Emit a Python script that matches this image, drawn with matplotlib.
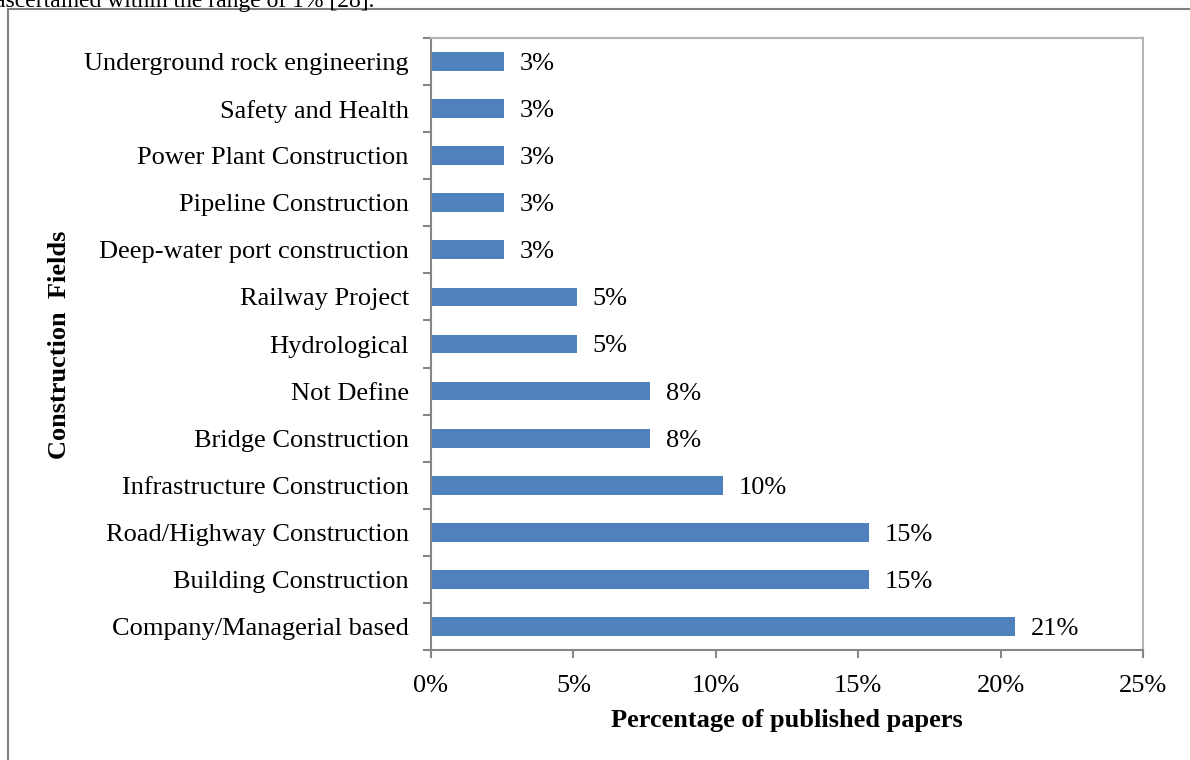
import numpy as np
import matplotlib.pyplot as plt
from matplotlib.patches import Rectangle

# data (bottom to top)
fields = ['Company/Managerial based', 'Building Construction', 'Road/Highway Construction',
          'Infrastructure Construction', 'Bridge Construction', 'Not Define', 'Hydrological',
          'Railway Project', 'Deep-water port construction', 'Pipeline Construction',
          'Power Plant Construction', 'Safety and Health', 'Underground rock engineering']
papers = [8, 6, 6, 4, 3, 3, 2, 2, 1, 1, 1, 1, 1]
total = 39
pct = [p / total * 100 for p in papers]
xticks = [0, 5, 10, 15, 20, 25]

plt.rcParams['font.family'] = ['Liberation Serif', 'DejaVu Serif']

fig = plt.figure(figsize=(11.9, 7.6), dpi=100)
ax = fig.add_axes([431 / 1190, 1 - 650 / 760, (1143 - 431) / 1190, (650 - 38) / 760])

y = np.arange(len(fields))
ax.barh(y, pct, height=0.4, color='#4F81BD')
for yi, v in zip(y, pct):
    ax.text(v + 0.55, yi, '%d%%' % round(v), va='center_baseline', ha='left', fontsize=19)

ax.set_xlim(0, 25)
ax.set_ylim(-0.5, len(fields) - 0.5)
ax.set_xticks(xticks)
ax.set_xticklabels(['%d%%' % t for t in xticks], fontsize=19)
ax.set_yticks(y)
ax.set_yticklabels(fields, fontsize=19, va='center_baseline')
ax.tick_params(axis='y', length=0, pad=16)
ax.set_yticks(np.arange(-0.5, len(fields), 1), minor=True)
ax.tick_params(axis='y', which='minor', length=6, direction='out', color='#868686', width=1.5)
ax.tick_params(axis='x', length=6, direction='out', color='#868686', width=1.5, pad=12)
for s in ['left', 'bottom']:
    ax.spines[s].set_color('#868686')
    ax.spines[s].set_linewidth(1.5)
for s in ['top', 'right']:
    ax.spines[s].set_color('#b4b4b4')
    ax.spines[s].set_linewidth(1.5)

fig.text(787 / 1190, 1 - 720 / 760, 'Percentage of published papers', ha='center', va='center',
         fontsize=19, fontweight='bold')
fig.text(60 / 1190, 1 - 345 / 760, 'Construction  Fields', ha='center', va='center',
         rotation=90, fontsize=19, fontweight='bold')

# outer frame and the cut-off caption line above it
fig.patches.append(Rectangle((8 / 1190, -0.1), 1.2, 1.1 - 9 / 760, transform=fig.transFigure,
                             fill=False, edgecolor='#808080', linewidth=1.5))
fig.text(-0.004, 1 - 6.5 / 760, 'ascertained within the range of 1% [28].', ha='left',
         va='baseline', fontsize=17)

fig.savefig('out.png', dpi=100)
